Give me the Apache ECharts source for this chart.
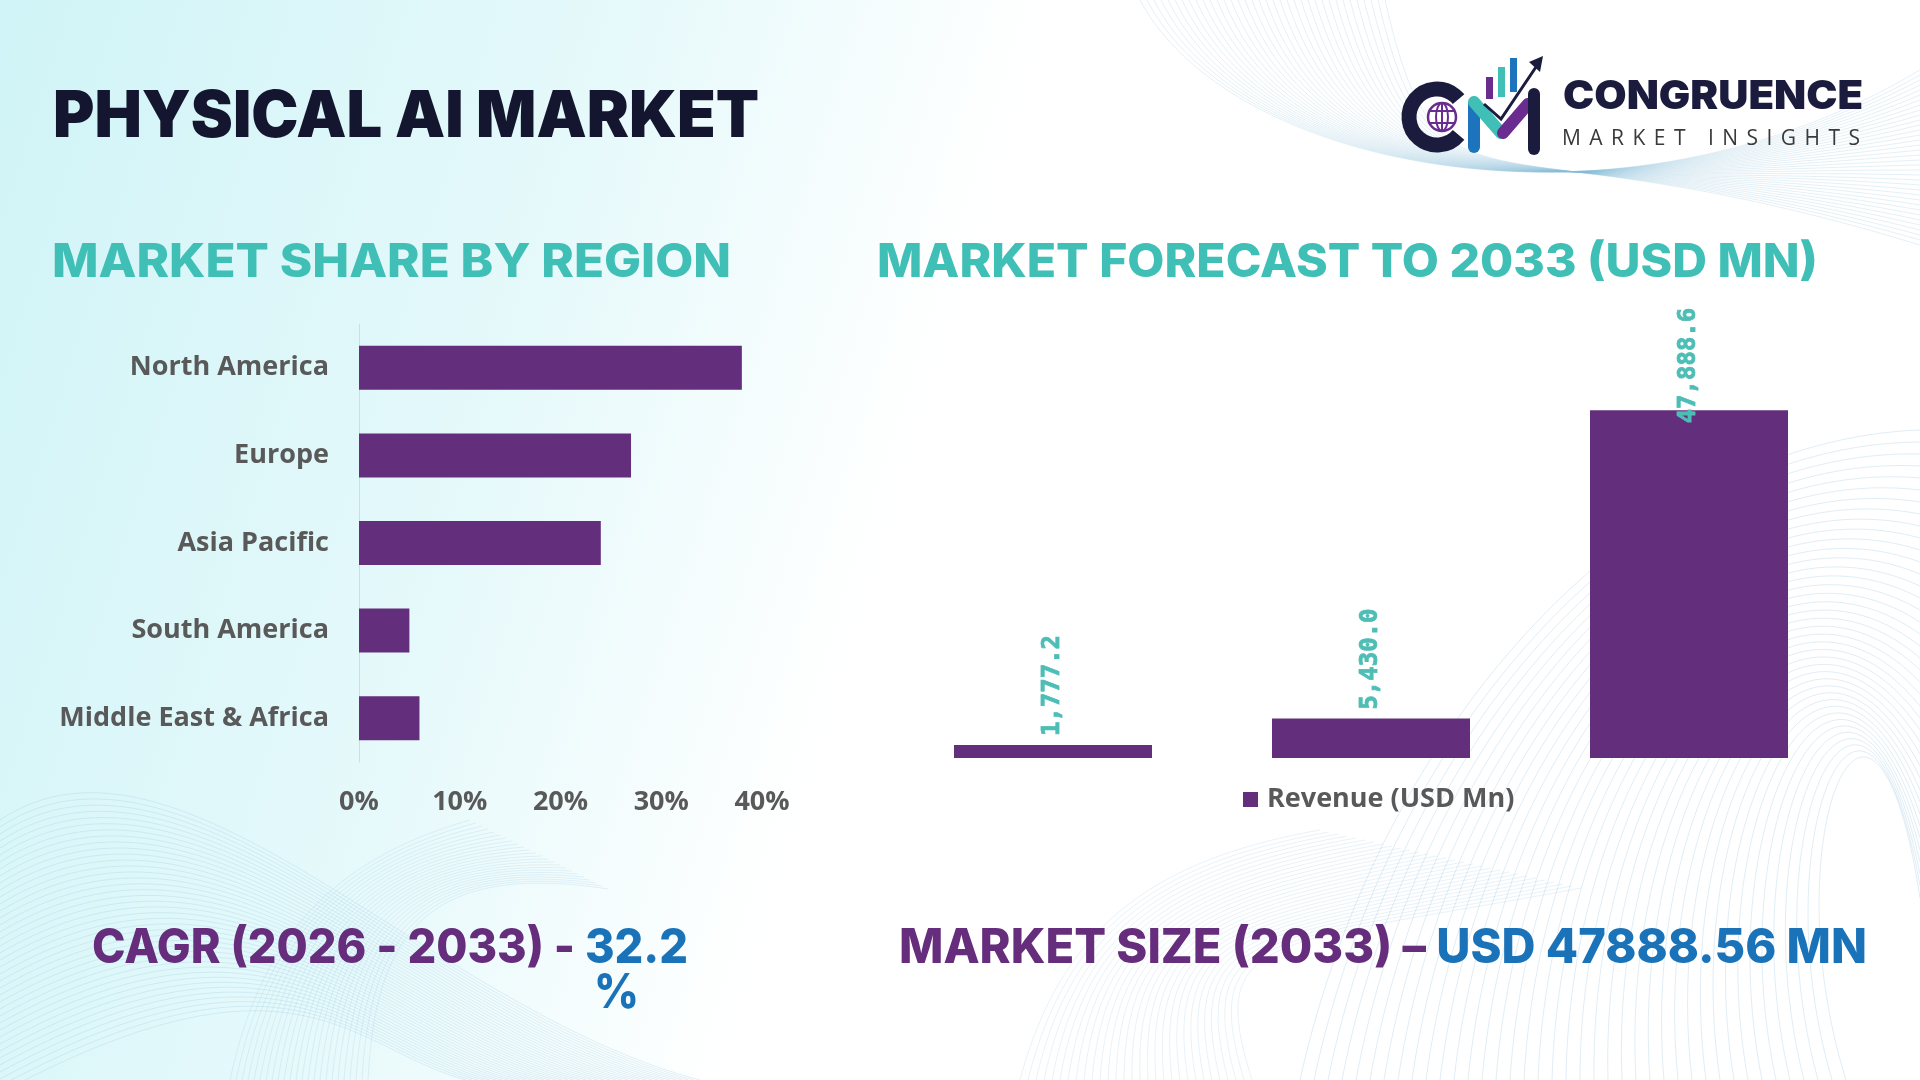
<!DOCTYPE html>
<html>
<head>
<meta charset="utf-8">
<title>Physical AI Market</title>
<script src="https://cdn.jsdelivr.net/npm/echarts@6/dist/echarts.min.js"></script>
<style>
  html, body { margin: 0; padding: 0; background: #fff; }
  #chart { width: 1920px; height: 1080px; }
</style>
</head>
<body>
<div id="chart"></div>
<script>
// data
const regions = ['North America', 'Europe', 'Asia Pacific', 'South America', 'Middle East & Africa'];
const regionShare = [38, 27, 24, 5, 6];
const shareTicks = [0, 10, 20, 30, 40];
const forecastYears = ['2021', '2026', '2033'];
const revenue = [1777.2, 5430.0, 47888.6];
const seriesName = 'Revenue (USD Mn)';

const purple = '#632e7b';
const teal = '#40bfb6';
const grey = '#595959';

const ctx = document.createElement('canvas').getContext('2d');
function textWidth(t, size, weight, family) {
    ctx.font = weight + ' ' + size + 'px "' + family + '"';
    return ctx.measureText(t).width;
}

// a line of text split in coloured parts, squeezed to the width in the picture
function textLine(parts, x, yMid, size, weight, family, width) {
    let total = 0;
    parts.forEach(p => { total += textWidth(p.text, size, weight, family); });
    const s = width / total;
    let cx = x;
    return parts.map(p => {
        const el = {
            type: 'text', x: cx, y: yMid, scaleX: s, z: 10,
            style: {
                text: p.text, x: 0, y: 0, fill: p.color,
                fontSize: size, fontWeight: weight, fontFamily: family,
                align: 'left', verticalAlign: 'middle'
            }
        };
        cx += textWidth(p.text, size, weight, family) * s;
        return el;
    });
}

function spacedText(t, x, yMid, size, weight, family, width, color) {
    const ws = t.split('').map(c => textWidth(c, size, weight, family));
    const extra = (width - ws.reduce((a, b) => a + b, 0)) / (t.length - 1);
    let cx = x;
    return t.split('').map((c, i) => {
        const el = {
            type: 'text', x: cx, y: yMid, z: 10,
            style: { text: c, fill: color, fontSize: size, fontWeight: weight, fontFamily: family, verticalAlign: 'middle' }
        };
        cx += ws[i] + extra;
        return el;
    });
}

// background wave lines
function waves() {
    const out = [];
    const line = (pts, op) => out.push({
        type: 'bezierCurve', z: -5, silent: true,
        shape: { x1: pts[0], y1: pts[1], cpx1: pts[2], cpy1: pts[3], cpx2: pts[4], cpy2: pts[5], x2: pts[6], y2: pts[7] },
        style: { stroke: 'rgba(130,185,215,' + op + ')', lineWidth: 1, fill: null }
    });
    for (let i = 0; i < 36; i++) {
        line([1140 + i * 7, 0, 1230 + i * 6, 170 + i * 2, 1620 - i * 4, 250 - i * 4, 1920, 70 + i * 5], 0.22);
    }
    for (let i = 0; i < 40; i++) {
        line([1300 + i * 14, 1080, 1380 + i * 10, 720 + i * 3, 1640 + i * 6, 440 + i * 4, 1920, 430 + i * 12], 0.25);
    }
    for (let i = 0; i < 40; i++) {
        line([0, 820 + i * 7, 180 + i * 3, 700 + i * 6, 430 - i * 2, 1010 + i, 700 - i * 6, 1080], 0.22);
    }
    for (let i = 0; i < 30; i++) {
        line([1020 + i * 8, 1080, 1060 + i * 5, 930, 1150 + i * 4, 860 + i * 3, 1320 + i * 9, 830 + i * 2], 0.18);
    }
    for (let i = 0; i < 24; i++) {
        line([230 + i * 6, 1080, 260 + i * 5, 940, 330 + i * 4, 860, 470 + i * 6, 820 + i * 3], 0.18);
    }
    return out;
}

function logo() {
    const navy = '#1b1b3d';
    return [
        { type: 'arc', z: 10, shape: { cx: 1437, cy: 117, r: 28, startAngle: Math.PI * 0.22, endAngle: Math.PI * 1.78 },
          style: { stroke: navy, lineWidth: 15, fill: null } },
        { type: 'circle', z: 11, shape: { cx: 1442, cy: 117, r: 14 }, style: { fill: '#fff', stroke: '#6a2c8e', lineWidth: 2.5 } },
        { type: 'ellipse', z: 12, shape: { cx: 1442, cy: 117, rx: 6, ry: 14 }, style: { fill: null, stroke: '#6a2c8e', lineWidth: 2 } },
        { type: 'line', z: 12, shape: { x1: 1429, y1: 111, x2: 1455, y2: 111 }, style: { stroke: '#6a2c8e', lineWidth: 2 } },
        { type: 'line', z: 12, shape: { x1: 1429, y1: 123, x2: 1455, y2: 123 }, style: { stroke: '#6a2c8e', lineWidth: 2 } },
        { type: 'line', z: 12, shape: { x1: 1442, y1: 103, x2: 1442, y2: 131 }, style: { stroke: '#6a2c8e', lineWidth: 2 } },
        { type: 'line', z: 12, shape: { x1: 1474, y1: 147, x2: 1474, y2: 104 }, style: { stroke: '#1c75bc', lineWidth: 12, lineCap: 'round' } },
        { type: 'line', z: 13, shape: { x1: 1474, y1: 102, x2: 1501, y2: 133 }, style: { stroke: teal, lineWidth: 12, lineCap: 'round' } },
        { type: 'line', z: 13, shape: { x1: 1503, y1: 133, x2: 1528, y2: 104 }, style: { stroke: '#6a2c8e', lineWidth: 12, lineCap: 'round' } },
        { type: 'line', z: 13, shape: { x1: 1534, y1: 94, x2: 1534, y2: 149 }, style: { stroke: navy, lineWidth: 12, lineCap: 'round' } },
        { type: 'rect', z: 11, shape: { x: 1486, y: 77, width: 7, height: 22 }, style: { fill: '#6a2c8e' } },
        { type: 'rect', z: 11, shape: { x: 1498, y: 67, width: 7, height: 30 }, style: { fill: teal } },
        { type: 'rect', z: 11, shape: { x: 1510, y: 58, width: 7, height: 34 }, style: { fill: '#1c75bc' } },
        { type: 'polyline', z: 14, shape: { points: [[1484, 104], [1501, 119], [1536, 67]] }, style: { stroke: navy, lineWidth: 3, fill: null } },
        { type: 'polygon', z: 14, shape: { points: [[1543, 56], [1529, 62], [1540, 72]] }, style: { fill: navy } }
    ];
}

const myChart = echarts.init(document.getElementById('chart'));

const graphics = [
    { type: 'rect', z: -10, silent: true, shape: { x: 0, y: 0, width: 1920, height: 1080 },
      style: { fill: new echarts.graphic.LinearGradient(0, 0, 1, 0.55, [
          { offset: 0, color: '#d0f4f7' }, { offset: 0.3, color: '#e6f9fb' }, { offset: 0.5, color: '#ffffff' }, { offset: 1, color: '#ffffff' }]) } }
].concat(waves(), logo(),
    textLine([{ text: 'PHYSICAL AI MARKET', color: '#14152f' }], 53, 118, 64, 900, 'Inter', 706),
    textLine([{ text: 'MARKET SHARE BY REGION', color: teal }], 52, 263, 46, 800, 'Inter', 679),
    textLine([{ text: 'MARKET FORECAST TO 2033 (USD MN)', color: teal }], 877, 263, 46, 800, 'Inter', 941),
    textLine([{ text: 'CONGRUENCE', color: '#1b1b3d' }], 1563, 97, 40, 900, 'Inter', 300),
    spacedText('MARKET INSIGHTS', 1562, 139, 21, 400, 'Open Sans', 298, '#3a3a3a'),
    textLine([{ text: 'CAGR (2026 - 2033) - ', color: '#652d7c' }, { text: '32.2', color: '#1a73b8' }], 92, 949, 48, 800, 'Inter', 596),
    textLine([{ text: '%', color: '#1a73b8' }], 594, 994, 48, 800, 'Inter', 45),
    textLine([{ text: 'MARKET SIZE (2033) \u2013 ', color: '#652d7c' }, { text: 'USD 47888.56 MN', color: '#1a73b8' }], 899, 949, 48, 800, 'Inter', 968)
);

const labelFont = { fontSize: 27, fontWeight: 700, color: grey, fontFamily: 'Open Sans' };

myChart.setOption({
    animation: false,
    backgroundColor: 'transparent',
    graphic: { elements: graphics },
    legend: {
        data: [seriesName],
        left: 1238, top: 781,
        itemWidth: 15, itemHeight: 15, icon: 'rect',
        textStyle: Object.assign({ padding: [0, 0, 0, 4] }, labelFont)
    },
    grid: [
        { left: 359, top: 324, width: 403, height: 438 },
        { left: 894, top: 395, width: 954, height: 363 }
    ],
    xAxis: [{
        gridIndex: 0, type: 'value',
        min: shareTicks[0], max: shareTicks[shareTicks.length - 1], interval: shareTicks[1] - shareTicks[0],
        axisLine: { show: false }, axisTick: { show: false }, splitLine: { show: false },
        axisLabel: Object.assign({ formatter: '{value}%', margin: 27 }, labelFont)
    }, {
        gridIndex: 1, type: 'category', data: forecastYears, show: false
    }],
    yAxis: [{
        gridIndex: 0, type: 'category', data: regions, inverse: true,
        axisLine: { lineStyle: { color: '#d9d9d9', width: 1 } },
        axisTick: { show: false },
        axisLabel: Object.assign({ margin: 30 }, labelFont)
    }, {
        gridIndex: 1, type: 'value', min: 0, max: 50000, show: false
    }],
    series: [{
        type: 'bar', name: 'Share',
        xAxisIndex: 0, yAxisIndex: 0,
        data: regionShare, barWidth: 44,
        itemStyle: { color: purple }
    }, {
        type: 'bar', name: seriesName,
        xAxisIndex: 1, yAxisIndex: 1,
        // the last label sits inside the bar, as in the picture
        data: revenue.map((v, i) => i === revenue.length - 1 ? { value: v, label: { distance: -13 } } : v),
        barWidth: 198,
        itemStyle: { color: purple },
        label: {
            show: true, position: 'top', rotate: 90, align: 'left', verticalAlign: 'middle', distance: 9,
            color: '#4dbdb5', fontSize: 24, fontWeight: 'bold', fontFamily: 'DejaVu Sans Mono',
            textBorderColor: '#4dbdb5', textBorderWidth: 0.8,
            formatter: p => p.value.toLocaleString('en-US', { minimumFractionDigits: 1, maximumFractionDigits: 1 })
        }
    }]
});
</script>
</body>
</html>
